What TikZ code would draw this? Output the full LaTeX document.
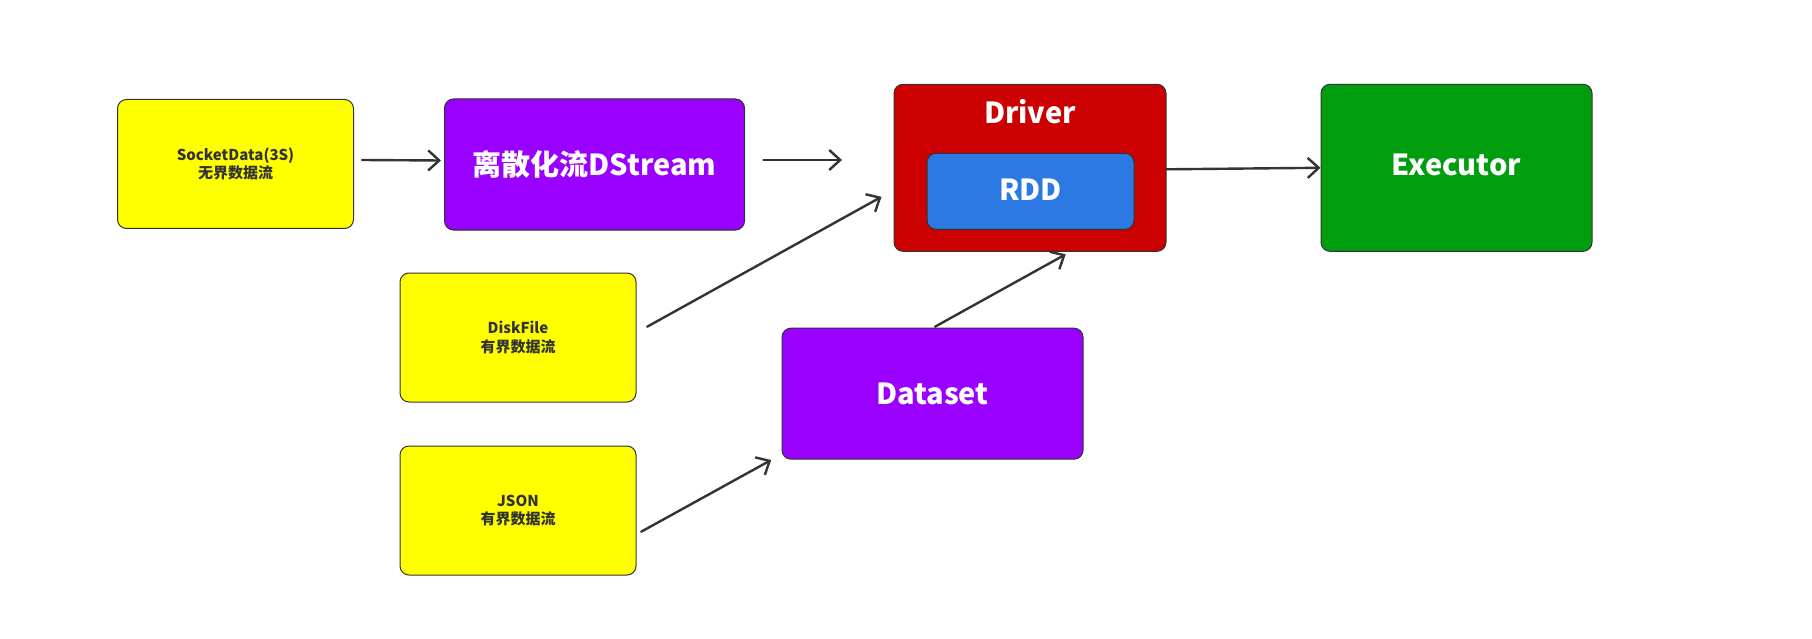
\documentclass[tikz,border=0pt]{standalone}
\usepackage{fontspec}
\setmainfont{Noto Sans CJK SC}
\usetikzlibrary{arrows.meta}
\definecolor{srcyellow}{HTML}{FFFF00}
\definecolor{dspurple}{HTML}{9900FF}
\definecolor{drvred}{HTML}{CC0000}
\definecolor{rddblue}{HTML}{2D79E3}
\definecolor{exgreen}{HTML}{009E0F}
\definecolor{inkgray}{HTML}{333333}
\begin{document}
\begin{tikzpicture}[x=1pt,y=-1pt,
  box/.style={draw=inkgray,line width=1pt,rounded corners=9pt,inner sep=0pt,align=center,font=\bfseries},
  srcbox/.style={box,fill=srcyellow,text=inkgray,minimum width=236pt,minimum height=129pt,font=\bfseries\fontsize{15}{18.5}\selectfont},
  bigbox/.style={box,text=white,font=\bfseries\fontsize{29}{34}\selectfont},
  flow/.style={draw=inkgray,line width=2.4pt,line cap=round,-{Straight Barb[length=11pt,width=20pt,line width=2.4pt]}}]
\useasboundingbox (0,0) rectangle (1812,639);

\node[srcbox] (sock) at (235.5,164) {SocketData(3S)\\无界数据流};
\node[srcbox] (disk) at (518,337.5) {DiskFile\\有界数据流};
\node[srcbox] (json) at (518,510.5) {JSON\\有界数据流};

\node[bigbox,fill=dspurple,minimum width=300pt,minimum height=131pt] (dstream) at (594.5,164.5) {离散化流DStream};
\node[bigbox,fill=dspurple,minimum width=301pt,minimum height=131pt] (dataset) at (932.5,393.7) {Dataset};
\node[bigbox,fill=drvred,minimum width=272pt,minimum height=167pt] (driver) at (1030,167.8) {};
\node[bigbox,draw=none,fill=none] (drvlabel) at (1030,112) {Driver};
\node[bigbox,fill=rddblue,minimum width=207pt,minimum height=76pt] (rdd) at (1030.5,191.3) {\raisebox{4pt}{RDD}};
\node[bigbox,fill=exgreen,minimum width=271pt,minimum height=167pt] (exec) at (1456.5,167.8) {\raisebox{6pt}{Executor}};

\coordinate (dsend) at (842,160);

\draw[flow] ([xshift=8pt,yshift=4pt]sock.east) -- ([xshift=-3pt,yshift=4pt]dstream.west);
\draw[flow] ([xshift=18.5pt,yshift=4.5pt]dstream.east) -- (dsend);
\draw[flow] ([xshift=10.7pt,yshift=10.8pt]disk.east) -- ([xshift=-12pt,yshift=-29pt]driver.west);
\draw[flow] ([xshift=4.7pt,yshift=-21.2pt]json.east) -- ([xshift=-10.3pt,yshift=-0.3pt]dataset.south west);
\draw[flow] ([xshift=2.5pt,yshift=1pt]dataset.north) -- ([xshift=35.7pt,yshift=-2.5pt]driver.south);
\draw[flow] ([yshift=-1.5pt]driver.east) -- (exec.west);
\end{tikzpicture}
\end{document}
